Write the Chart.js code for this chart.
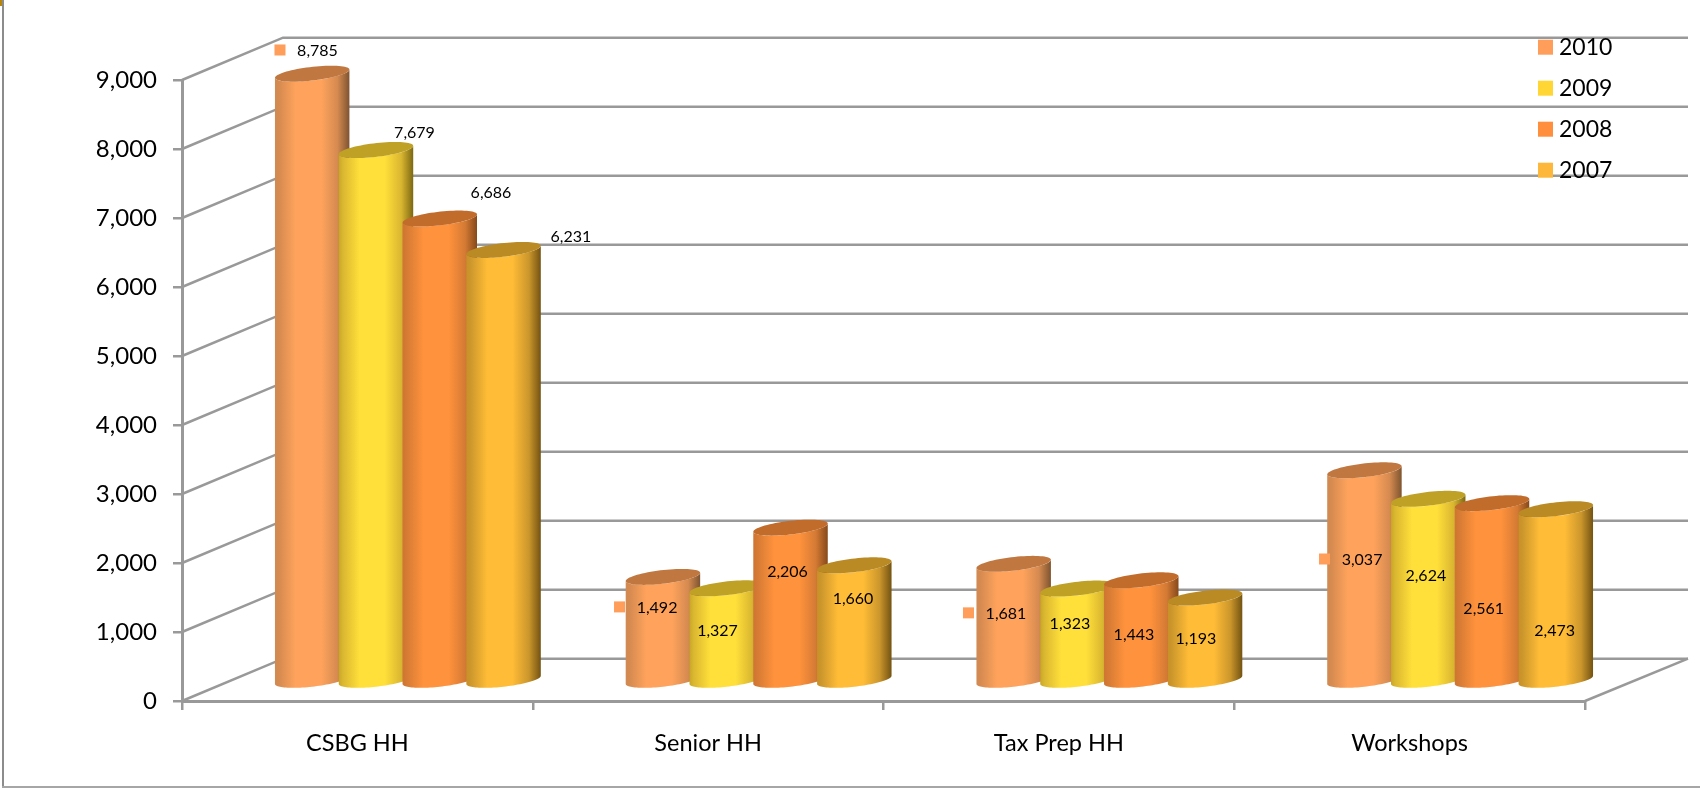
<!DOCTYPE html>
<html>
<head>
<meta charset="utf-8">
<style>html,body{margin:0;padding:0;background:#fff}canvas{display:block}</style>
<script src="https://cdn.jsdelivr.net/npm/chart.js@4"></script>
</head>
<body>
<canvas id="c" width="1700" height="789" style="width:1700px;height:789px"></canvas>
<script>
const categories = ['CSBG HH', 'Senior HH', 'Tax Prep HH', 'Workshops'];
const seriesNames = ['2010', '2009', '2008', '2007'];
const values2010 = [8785, 1492, 1681, 3037];
const values2009 = [7679, 1327, 1323, 2624];
const values2008 = [6686, 2206, 1443, 2561];
const values2007 = [6231, 1660, 1193, 2473];
const seriesValues = [values2010, values2009, values2008, values2007];

// colours: legend/base, lit centre, left edge, right edge, top cap
const legendColors = ['#FF9D5A', '#FFD633', '#FF8F3C', '#FDB83B'];
const cylColors = [
  {mid:'#FFA35C', left:'#D08A52', right:'#7E5430', shade:'#D58A50', cap:'#C07840'},
  {mid:'#FFDF3A', left:'#C9A526', right:'#7C6812', shade:'#D9B630', cap:'#BFA126'},
  {mid:'#FF923C', left:'#CF7432', right:'#86491A', shade:'#D47A34', cap:'#C26C2C'},
  {mid:'#FFBC36', left:'#C99028', right:'#735312', shade:'#CB962C', cap:'#BA8A24'}
];
// data label placement relative to each cylinder's cap centre [series][category]
const labelOffsets = [
  [[5.3,-22.7],[-5.9,31],[-7.7,50],[-2.4,89.7]],
  [[38.5,-16.9],[-9.2,42.7],[-7.5,35],[-2.4,77.2]],
  [[51.2,-25.5],[-3,44.4],[-7.3,54.7],[-8.3,105.9]],
  [[67.4,-13.4],[-1.3,34],[-9.1,41],[-1.1,121.8]]
];

const FONT = 'Lato, "Open Sans", sans-serif';
const GRID = '#999999';
const DEPTH = {x:101, y:-42.3};
const CAP = {x:19.2, y:-8};

function ellipsePts(c, a, from, to, n) {
  const pts = [];
  for (let i = 0; i <= n; i++) {
    const t = from + (to - from) * i / n;
    pts.push([c.x + a*Math.cos(t) + CAP.x*Math.sin(t), c.y + CAP.y*Math.sin(t)]);
  }
  return pts;
}

function drawCylinder(ctx, cx, topY, baseY, a, col) {
  const t0 = Math.atan2(CAP.x, a);
  const half = Math.sqrt(a*a + CAP.x*CAP.x);
  const g = ctx.createLinearGradient(cx - half, 0, cx + half, 0);
  g.addColorStop(0, col.left);
  g.addColorStop(0.05, col.shade);
  g.addColorStop(0.28, col.mid);
  g.addColorStop(0.62, col.mid);
  g.addColorStop(0.84, col.shade);
  g.addColorStop(1, col.right);
  ctx.beginPath();
  // lower rim of the base, right extreme to left extreme
  ellipsePts({x:cx, y:baseY}, a, t0, t0 - Math.PI, 48).forEach((p,i)=> i ? ctx.lineTo(p[0],p[1]) : ctx.moveTo(p[0],p[1]));
  // up the left side and along the cap's rim to the right extreme
  ellipsePts({x:cx, y:topY}, a, t0 - Math.PI, t0, 48).forEach(p=>ctx.lineTo(p[0],p[1]));
  ctx.closePath();
  ctx.fillStyle = g;
  ctx.fill();
  ctx.beginPath();
  ellipsePts({x:cx, y:topY}, a, 0, 2*Math.PI, 72).forEach((p,i)=> i ? ctx.lineTo(p[0],p[1]) : ctx.moveTo(p[0],p[1]));
  ctx.closePath();
  ctx.fillStyle = col.cap;
  ctx.fill();
}

const scene3d = {
  id: 'scene3d',
  beforeDraw(chart) {
    const ctx = chart.ctx;
    ctx.save();
    ctx.fillStyle = '#8C8C8C';
    ctx.fillRect(2, 0, 2, 788);
    ctx.fillStyle = '#A6A6A6';
    ctx.fillRect(2, 786, 1698, 2);
    ctx.fillStyle = '#B8860B';
    ctx.fillRect(0, 0, 2, 6);
    ctx.restore();
  },
  beforeDatasetsDraw(chart) {
    const ctx = chart.ctx, y = chart.scales.y, area = chart.chartArea;
    ctx.save();
    ctx.strokeStyle = GRID;
    ctx.lineWidth = 2.5;
    ctx.lineCap = 'butt';
    y.ticks.forEach(t => {
      const py = y.getPixelForValue(t.value);
      ctx.beginPath();
      ctx.moveTo(area.left, py);
      ctx.lineTo(area.left + DEPTH.x, py + DEPTH.y);
      ctx.lineTo(area.right + DEPTH.x + 2, py + DEPTH.y);
      ctx.stroke();
    });
    const p0 = y.getPixelForValue(0);
    ctx.beginPath();
    ctx.moveTo(area.right, p0);
    ctx.lineTo(area.right + DEPTH.x + 2, p0 + DEPTH.y);
    ctx.stroke();
    ctx.restore();
  },
  beforeDatasetDraw() { return false; },
  afterDatasetsDraw(chart) {
    const ctx = chart.ctx, y = chart.scales.y;
    const base = y.getPixelForValue(0);
    ctx.save();
    chart.data.datasets.forEach((ds, i) => {
      chart.getDatasetMeta(i).data.forEach((bar, j) => {
        const cx = bar.x + DEPTH.x/2;
        const topY = y.getPixelForValue(ds.data[j]) + DEPTH.y/2;
        drawCylinder(ctx, cx, topY, base + DEPTH.y/2, bar.width/2, cylColors[i]);
      });
    });
    ctx.textAlign = 'center';
    ctx.textBaseline = 'middle';
    ctx.font = '16px ' + FONT;
    chart.data.datasets.forEach((ds, i) => {
      chart.getDatasetMeta(i).data.forEach((bar, j) => {
        const v = ds.data[j];
        const lx = bar.x + DEPTH.x/2 + labelOffsets[i][j][0];
        const ly = y.getPixelForValue(v) + DEPTH.y/2 + labelOffsets[i][j][1];
        if (i === 0) {
          ctx.fillStyle = legendColors[0];
          ctx.fillRect(lx - 43, ly - 6.5, 11, 11);
        }
        ctx.fillStyle = '#000';
        ctx.fillText(v.toLocaleString('en-US'), lx, ly);
      });
    });
    ctx.textAlign = 'left';
    ctx.font = '23px ' + FONT;
    seriesNames.forEach((name, i) => {
      const ky = 39.7 + i*41;
      ctx.fillStyle = legendColors[i];
      ctx.fillRect(1538, ky, 15, 15);
      ctx.fillStyle = '#000';
      ctx.fillText(name, 1559, ky + 7.5);
    });
    ctx.restore();
  }
};

new Chart(document.getElementById('c'), {
  type: 'bar',
  data: {
    labels: categories,
    datasets: seriesNames.map((name, i) => ({
      label: name,
      data: seriesValues[i],
      backgroundColor: legendColors[i],
      categoryPercentage: 0.7275,
      barPercentage: 1
    }))
  },
  options: {
    responsive: false,
    animation: false,
    devicePixelRatio: 1,
    layout: {padding: {left: 0, top: 80, right: 115, bottom: 0}},
    plugins: {legend: {display: false}, title: {display: false}, tooltip: {enabled: false}},
    scales: {
      x: {
        grid: {drawOnChartArea: false, drawTicks: true, tickLength: 9, tickColor: GRID, tickWidth: 2.5, color: GRID, lineWidth: 2.5},
        border: {color: GRID, width: 3},
        ticks: {font: {family: FONT, size: 23.5}, color: '#000', padding: 19, maxRotation: 0},
        afterFit(s) { s.height = 88; }
      },
      y: {
        min: 0, max: 9000,
        grid: {drawOnChartArea: false, drawTicks: true, tickLength: 9, tickColor: GRID, tickWidth: 2.5, color: GRID, lineWidth: 2.5},
        border: {color: GRID, width: 3},
        ticks: {
          stepSize: 1000,
          font: {family: FONT, size: 24},
          color: '#000',
          padding: 16,
          callback: v => v.toLocaleString('en-US')
        },
        afterFit(s) { s.width = 182; }
      }
    }
  },
  plugins: [scene3d]
});
</script>
</body>
</html>
